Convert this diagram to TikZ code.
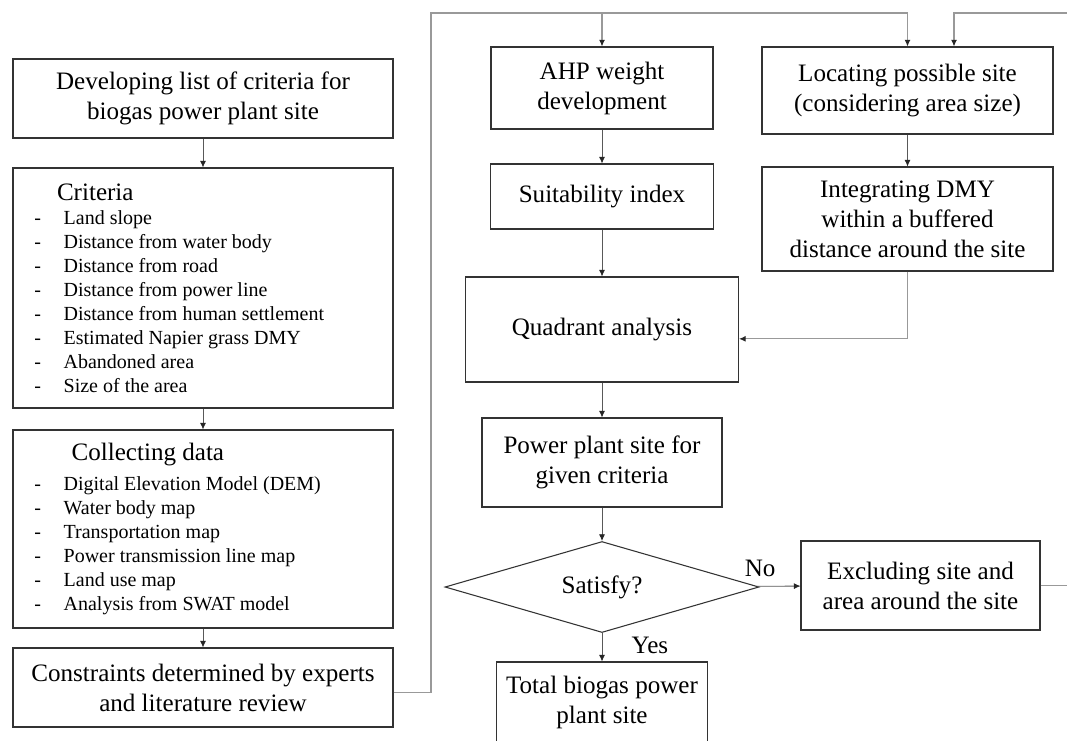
\documentclass[tikz,border=0pt]{standalone}
\usepackage{fontspec}
\setmainfont{Liberation Serif}
\usetikzlibrary{positioning,arrows.meta,shapes.geometric}
\newcommand{\boxfont}{\fontsize{18.8}{22.5}\selectfont}
\newcommand{\listfont}{\fontsize{15}{18}\selectfont}
\newcommand{\dashitem}[1]{\par\noindent\makebox[38pt][l]{\hspace*{16pt}-}#1}

\begin{document}
\begin{tikzpicture}[x=0.75pt,y=-0.75pt,>={Latex[length=5pt,width=4.5pt,color=black!85]},
  box/.style={draw=black!80,line width=0.8pt,font=\boxfont,align=center,inner sep=2pt},
  listbox/.style={draw=black!80,line width=0.8pt,inner sep=0pt,minimum width=285pt},
  arr/.style={->,draw=black!65,line width=0.6pt},
  feed/.style={->,draw=black!40,line width=0.8pt},
  lbl/.style={font=\boxfont,inner sep=2pt}]
  \useasboundingbox (0,0) rectangle (1067,740);
  \fill[white] (0,0) rectangle (1067,740);
  % left column
  \node[box,minimum width=285pt,minimum height=59.25pt] (dev) at (203,98.5)
    {Developing list of criteria for\\biogas power plant site};
  \node[listbox,minimum height=180pt] (crit) at (203,288) {\begin{minipage}{285pt}
    {\boxfont\noindent\hspace*{33pt}Criteria\par}\listfont
    \dashitem{Land slope}
    \dashitem{Distance from water body}
    \dashitem{Distance from road}
    \dashitem{Distance from power line}
    \dashitem{Distance from human settlement}
    \dashitem{Estimated Napier grass DMY}
    \dashitem{Abandoned area}
    \dashitem{Size of the area}
  \end{minipage}};
  \node[listbox,minimum height=148.5pt] (coll) at (203,529) {\begin{minipage}{285pt}
    {\boxfont\noindent\hspace*{44pt}Collecting data\par}\vspace{4pt}\listfont
    \dashitem{Digital Elevation Model (DEM)}
    \dashitem{Water body map}
    \dashitem{Transportation map}
    \dashitem{Power transmission line map}
    \dashitem{Land use map}
    \dashitem{Analysis from SWAT model}
  \end{minipage}};
  \node[box,minimum width=285pt,minimum height=59.25pt] (cons) at (203,687.5)
    {Constraints determined by experts\\and literature review};
  % middle column
  \node[box,minimum width=166.5pt,minimum height=61.5pt] (ahp) at (602,88) {AHP weight\\development};
  \node[box,minimum width=167.25pt,minimum height=48.75pt] (suit) at (602,196.5) {Suitability index};
  \node[box,minimum width=204.75pt,minimum height=78.75pt] (quad) at (602,329.5) {Quadrant analysis};
  \node[box,minimum width=180pt,minimum height=66.75pt] (pps) at (602,462.5) {Power plant site for\\given criteria};
  \node[box,diamond,aspect=3.45,inner sep=0pt,minimum width=235.5pt,minimum height=68.25pt] (sat) at (602,587) {Satisfy?};
  \node[box,minimum width=158.25pt,minimum height=60pt] (total) at (602,702) {Total biogas power\\plant site};
  % right column
  \node[box,minimum width=218.25pt,minimum height=65.25pt] (loc) at (907.5,90.5)
    {Locating possible site\\(considering area size)};
  \node[box,minimum width=218.25pt,minimum height=78pt] (integ) at (907.5,219)
    {Integrating DMY\\within a buffered\\distance around the site};
  \node[box,minimum width=179.25pt,minimum height=66.75pt] (excl) at (920.5,585.5)
    {Excluding site and\\area around the site};
  \coordinate (tl) at (431,13);
  \coordinate (tr) at (954,13);
  % connectors
  \draw[arr] (dev) -- (crit);
  \draw[arr] (crit) -- (coll);
  \draw[arr] (coll) -- (cons);
  \draw[arr] (ahp) -- (suit);
  \draw[arr] (suit) -- (quad);
  \draw[arr] (quad) -- (pps);
  \draw[arr] (pps) -- (sat);
  \draw[arr] (loc) -- (integ);
  \draw[arr] (sat) -- node[lbl,right,pos=0.42,xshift=20pt] (yes) {Yes} (total);
  \draw[arr] (sat) -- node[lbl,above,pos=0.07,yshift=5pt] (no) {No} (excl);
  \draw[feed] ([yshift=-3.4pt]cons.east) -| (tl) -- (tl -| loc.north) -- (loc.north);
  \draw[feed] (ahp.north |- tl) -- (ahp.north);
  \draw[feed] (excl.east) -- ++(40,0) |- (tr) -- (tr |- loc.north);
  \draw[feed] (integ.south) |- ([yshift=-7pt]quad.east);
\end{tikzpicture}
\end{document}
